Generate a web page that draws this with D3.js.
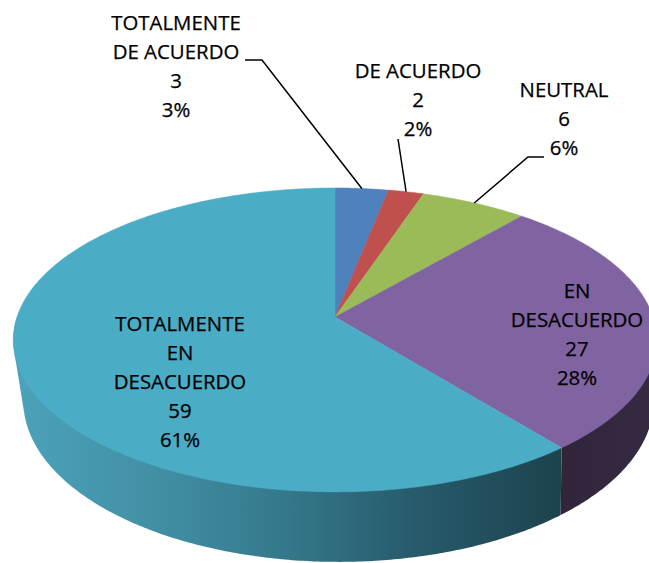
<!DOCTYPE html>
<html>
<head>
<meta charset="utf-8">
<script src="https://cdn.jsdelivr.net/npm/d3@7"></script>
<style>
  html, body { margin: 0; padding: 0; background: #fff; }
  svg { display: block; }
  text { font-family: "Open Sans", "Liberation Sans", sans-serif; font-size: 20.4px; fill: #000; stroke: #000; stroke-width: 0.25px; }
</style>
</head>
<body>
<div id="chart"></div>
<script>
// data
var categories = ["TOTALMENTE DE ACUERDO", "DE ACUERDO", "NEUTRAL", "EN DESACUERDO", "TOTALMENTE EN DESACUERDO"];
var values = [3, 2, 6, 27, 59];
var labelLines = [["TOTALMENTE", "DE ACUERDO"], ["DE ACUERDO"], ["NEUTRAL"], ["EN", "DESACUERDO"], ["TOTALMENTE", "EN", "DESACUERDO"]];
var colors = ["#4F81BD", "#C0504D", "#9BBB59", "#8064A2", "#4BACC6"];

// layout of the 3d pie (perspective tilt)
var W = 649, H = 563;
var X0 = 335, Y0 = 317, RX = 318, RY = 148.5, TILT = 0.151, DEPTH = 59.4;
var BOT_K = 0.98, BOT_PX = 513; // bottom rim slightly shrunk toward the right
var lineH = 29;
// label placement: centre x, first baseline, leader elbow (null = inside label)
var labelPos = [
  {x: 176, y: 30, elbow: [[262, 60], [245, 60]]},
  {x: 418, y: 78, elbow: [[398, 139]]},
  {x: 564, y: 97, elbow: [[528, 157], [544, 157]]},
  {x: 577, y: 298, elbow: null},
  {x: 180, y: 331, elbow: null}
];

var svg = d3.select("#chart").append("svg")
  .attr("width", W)
  .attr("height", H);

var defs = svg.append("defs");
var gCyan = defs.append("linearGradient")
  .attr("id", "sideCyan")
  .attr("gradientUnits", "userSpaceOnUse")
  .attr("x1", 15).attr("x2", 560).attr("y1", 0).attr("y2", 0);
[[0, "#4BA2BA"], [0.25, "#4290A5"], [0.5, "#34788A"], [0.75, "#26596A"], [1, "#1D434D"]].forEach(function(s){
  gCyan.append("stop").attr("offset", s[0]).attr("stop-color", s[1]);
});
var gPurple = defs.append("linearGradient")
  .attr("id", "sidePurple")
  .attr("gradientUnits", "userSpaceOnUse")
  .attr("x1", 560).attr("x2", 650).attr("y1", 0).attr("y2", 0);
[[0, "#302539"], [1, "#362A43"]].forEach(function(s){
  gPurple.append("stop").attr("offset", s[0]).attr("stop-color", s[1]);
});
var sideFill = ["#2C4A6E", "#6E2C2A", "#5A6E33", "url(#sidePurple)", "url(#sideCyan)"];

// angle 0 = back of the pie, clockwise
function proj(theta, bottom) {
  var u = Math.sin(theta), v = -Math.cos(theta);
  var w = 1 - TILT * v;
  var x = X0 + RX * u / w, y = Y0 + RY * v / w;
  if (bottom) {
    x = BOT_PX + (x - BOT_PX) * BOT_K;
    y += DEPTH / w;
  }
  return [x, y];
}

function arcPoints(a0, a1, bottom) {
  var n = Math.max(2, Math.ceil((a1 - a0) / 0.01));
  return d3.range(n + 1).map(function(i){ return proj(a0 + (a1 - a0) * i / n, bottom); });
}

var total = d3.sum(values);
var pie = d3.pie().sort(null).value(function(d){ return d; });
var arcs = pie(values);
var line = d3.line();

// front half carries the side wall; the hull gives the true silhouette
var tMin = Math.PI / 2, tMax = 3 * Math.PI / 2;

svg.selectAll("path.side")
  .data(arcs.filter(function(d){ return d.endAngle > tMin && d.startAngle < tMax; }))
  .enter()
  .append("path")
  .attr("class", "side")
  .attr("fill", function(d){ return sideFill[d.index]; })
  .attr("d", function(d){
    var a0 = Math.max(d.startAngle, tMin), a1 = Math.min(d.endAngle, tMax);
    var pts = arcPoints(a0, a1, false).concat(arcPoints(a0, a1, true));
    return line(d3.polygonHull(pts)) + "Z";
  });

svg.selectAll("path.top")
  .data(arcs)
  .enter()
  .append("path")
  .attr("class", "top")
  .attr("fill", function(d){ return colors[d.index]; })
  .attr("stroke", function(d){ return colors[d.index]; })
  .attr("stroke-width", 0.5)
  .attr("d", function(d){
    return line([[X0, Y0]].concat(arcPoints(d.startAngle, d.endAngle, false))) + "Z";
  });

// leader lines
svg.selectAll("path.leader")
  .data(arcs.filter(function(d){ return labelPos[d.index].elbow; }))
  .enter()
  .append("path")
  .attr("class", "leader")
  .attr("fill", "none")
  .attr("stroke", "#000")
  .attr("stroke-width", 1.5)
  .attr("d", function(d){
    var mid = (d.startAngle + d.endAngle) / 2;
    return line([proj(mid, false)].concat(labelPos[d.index].elbow));
  });

// labels
var lab = svg.selectAll("text.lab")
  .data(arcs)
  .enter()
  .append("text")
  .attr("class", "lab")
  .attr("text-anchor", "middle");

lab.each(function(d){
  var p = labelPos[d.index];
  var lines = labelLines[d.index].concat([String(d.data), Math.round(d.data / total * 100) + "%"]);
  d3.select(this).selectAll("tspan")
    .data(lines)
    .enter()
    .append("tspan")
    .attr("x", p.x)
    .attr("y", function(t, i){ return p.y + i * lineH; })
    .text(function(t){ return t; });
});
</script>
</body>
</html>
